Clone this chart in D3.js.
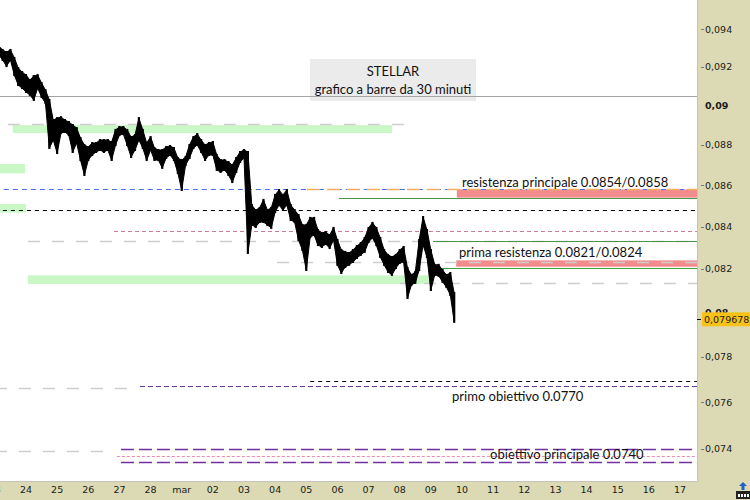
<!DOCTYPE html>
<html><head><meta charset="utf-8">
<script src="https://cdn.jsdelivr.net/npm/d3@7"></script>
<style>
body{margin:0;background:#fff}
svg{display:block}
.tick{font-family:"DejaVu Sans",sans-serif;font-size:9.5px;fill:#1a1a1a}
.ann{font-family:Lato,"Open Sans",sans-serif;font-size:13px;fill:#111}
</style>
</head><body>
<svg id="c" width="750" height="500"></svg>
<script>
// ---------------- DATA ----------------
const barStart = "2019-02-23 03:00";
const barStepHours = 3;
const highs = [
.09311,.09290,.09279,.09290,.09248,.09195,.09174,.09158,.09132,.09153,
.09158,.09116,.09080,.09029,.08926,.08936,.08941,.08926,.08916,.08901,
.08886,.08835,.08800,.08790,.08810,.08810,.08825,.08825,.08825,.08815,
.08876,.08891,.08891,.08876,.08840,.08850,.08936,.08876,.08810,.08840,
.08785,.08775,.08775,.08790,.08795,.08785,.08735,.08725,.08740,.08800,
.08840,.08855,.08825,.08800,.08810,.08815,.08750,.08725,.08725,.08715,
.08700,.08735,.08765,.08775,.08765,.08504,.08480,.08490,.08529,.08480,
.08490,.08553,.08577,.08553,.08577,.08504,.08480,.08456,.08408,.08408,
.08442,.08442,.08384,.08370,.08374,.08360,.08394,.08336,.08289,.08280,
.08275,.08289,.08308,.08322,.08346,.08394,.08418,.08394,.08346,.08289,
.08266,.08256,.08266,.08289,.08303,.08204,.08172,.08186,.08336,.08446,
.08384,.08289,.08219,.08219,.08195,.08172,.08181,.08088];
const lows = [
.09264,.09237,.09205,.09237,.09158,.09106,.09090,.09070,.09055,.09029,
.09090,.09044,.09013,.08785,.08825,.08760,.08861,.08866,.08850,.08765,
.08810,.08725,.08651,.08725,.08750,.08765,.08775,.08765,.08775,.08725,
.08800,.08850,.08855,.08800,.08740,.08775,.08825,.08785,.08725,.08775,
.08725,.08725,.08686,.08735,.08750,.08725,.08661,.08577,.08700,.08735,
.08785,.08800,.08765,.08725,.08750,.08750,.08676,.08666,.08676,.08651,
.08616,.08666,.08715,.08735,.08275,.08408,.08398,.08422,.08422,.08408,
.08394,.08470,.08504,.08480,.08504,.08432,.08422,.08336,.08289,.08195,
.08350,.08360,.08312,.08303,.08317,.08298,.08336,.08219,.08181,.08209,
.08219,.08233,.08251,.08266,.08280,.08327,.08346,.08312,.08256,.08219,
.08186,.08172,.08204,.08228,.08233,.08065,.08126,.08135,.08195,.08312,
.08256,.08102,.08172,.08168,.08140,.08116,.08079,.07956];
const lastPrice = 0.079678;

const yTicks = [0.074,0.076,0.078,0.08,0.082,0.084,0.086,0.088,0.09,0.092,0.094];
const yTicksBold = [0.08,0.09];
const dayLabels = ["23","24","25","26","27","28","mar","02","03","04","05","06","07","08","09","10","11","12","13","14","15","16","17"];
const firstLabelDay = "2019-02-23 00:00";

const zoneLow  = [0.0886, 0.08659, 0.08467, 0.0813, 0.0854, 0.0821];
const zoneHigh = [0.0890, 0.08705, 0.08509, 0.0817, 0.0858, 0.0824];
const zoneFrom = ["2019-02-23 13:45","2019-02-23 00:00","2019-02-23 00:00","2019-02-24 01:30","2019-03-09 20:00","2019-03-09 19:30"];
const zoneTo   = ["2019-03-07 18:05","2019-02-23 23:15","2019-02-24 00:00","2019-03-08 23:20","2019-03-19 00:00","2019-03-19 00:00"];
const zoneKind = ["support","support","support","support","resistance","resistance"];

const levelPrice = [0.0905,0.08905,0.0858,0.0858,0.0854,0.0848,0.0838,0.0833,0.0833,0.0823,0.08205,0.08133,0.07692,0.0767,0.0766,0.0740,0.0737,0.07347,0.07393];
const levelFrom = ["2019-02-23 00:00","2019-02-23 10:00","2019-02-23 00:00","2019-03-05 00:30","2019-03-06 01:10","2019-02-23 00:00","2019-02-26 19:50","2019-02-24 01:30","2019-03-09 01:40","2019-03-04 01:25","2019-03-09 01:40","2019-03-08 00:15","2019-03-05 03:00","2019-02-27 15:50","2019-02-23 00:00","2019-02-27 01:10","2019-02-26 22:00","2019-02-27 01:10","2019-02-23 00:00"];
const levelTo = ["2019-03-19 00:00","2019-03-08 03:20","2019-03-19 00:00","2019-03-19 00:00","2019-03-19 00:00","2019-03-19 00:00","2019-03-19 00:00","2019-03-19 00:00","2019-03-19 00:00","2019-03-19 00:00","2019-03-19 00:00","2019-03-19 00:00","2019-03-19 00:00","2019-03-19 00:00","2019-02-27 08:00","2019-03-19 00:00","2019-03-19 00:00","2019-03-19 00:00","2019-02-26 14:30"];
const levelKind = ["solidGray","grayLong","blueDash","orangeDash","greenSolid","blackDash","pinkDash","grayLong","greenSolid","grayLong","greenSolid2","grayLong","blackDash","purpleDash","grayLong","purpleLong","pinkSmall","purpleLong","grayLong"];

const noteText = ["resistenza principale 0.0854/0.0858","prima resistenza 0.0821/0.0824","primo obiettivo 0.0770","obiettivo principale 0.0740"];
const noteTime = ["2019-03-10 00:00","2019-03-09 21:45","2019-03-09 16:20","2019-03-10 21:40"];
const notePrice = [0.0858,0.0824,0.0767,0.0740];

const titleLines = ["STELLAR","grafico a barre da 30 minuti"];

// ---------------- STYLE / LAYOUT ----------------
const W = 750, H = 500, plotR = 697, plotB = 481;
const axisBg = "#dbdab4";
const zoneColor = {support:"#c9f7c6", resistance:"#f38d8d"};
const lineStyle = {
  solidGray:{c:"#a4a4a4",w:1.2,d:null},
  grayLong:{c:"#cdcdcd",w:1.5,d:"12,12"},
  blueDash:{c:"#4a72e4",w:1.2,d:"5,4"},
  orangeDash:{c:"#f5ad62",w:1.3,d:"13,7"},
  greenSolid:{c:"#4a944a",w:1,d:null},
  greenSolid2:{c:"#3aa03a",w:1.2,d:null},
  blackDash:{c:"#000",w:1,d:"4,4"},
  pinkDash:{c:"#d0779c",w:1.1,d:"4,3"},
  purpleDash:{c:"#5f3aa8",w:1,d:"5,3"},
  purpleLong:{c:"#7030a0",w:1.6,d:"13,5"},
  pinkSmall:{c:"#ef88bb",w:1,d:"3,2"}
};
const noteDy = [-2.5,-3,15,10];

// ---------------- SCALES ----------------
const parse = d3.timeParse("%Y-%m-%d %H:%M");
const x = d3.scaleTime()
  .domain([parse("2019-02-24 00:00"), parse("2019-03-17 00:00")])
  .range([26, 680]);
const y = d3.scaleLog().domain([0.074, 0.094]).range([449, 29.3]);

const loc = d3.formatLocale({decimal:",",thousands:".",grouping:[3],currency:["","€"]});
const fmtTick = loc.format(".3~f");
const fmtLast = loc.format(".6f");

const svg = d3.select("#c");
svg.append("rect").attr("width",W).attr("height",H).attr("fill","#fff");
svg.append("defs").append("clipPath").attr("id","plot")
  .append("rect").attr("x",0).attr("y",0).attr("width",plotR).attr("height",plotB);
const g = svg.append("g").attr("clip-path","url(#plot)");

// zones
const zones = zoneLow.map((lo,i)=>({lo,hi:zoneHigh[i],from:parse(zoneFrom[i]),to:parse(zoneTo[i]),kind:zoneKind[i]}));
g.selectAll("rect.zone").data(zones).join("rect").attr("class","zone")
  .attr("x",d=>x(d.from)).attr("width",d=>x(d.to)-x(d.from))
  .attr("y",d=>y(d.hi)).attr("height",d=>y(d.lo)-y(d.hi))
  .attr("fill",d=>zoneColor[d.kind]);

// levels
const levels = levelPrice.map((p,i)=>({p,from:parse(levelFrom[i]),to:parse(levelTo[i]),kind:levelKind[i]}));
g.selectAll("line.lvl").data(levels).join("line").attr("class","lvl")
  .attr("x1",d=>x(d.from)).attr("x2",d=>x(d.to))
  .attr("y1",d=>Math.round(y(d.p))+0.5).attr("y2",d=>Math.round(y(d.p))+0.5)
  .attr("stroke",d=>lineStyle[d.kind].c)
  .attr("stroke-width",d=>lineStyle[d.kind].w)
  .attr("stroke-dasharray",d=>lineStyle[d.kind].d);

// title box
const tb = svg.append("g");
tb.append("rect").attr("x",310).attr("y",59).attr("width",166).attr("height",42).attr("fill","#ebebeb");
tb.selectAll("text").data(titleLines).join("text").attr("class","ann")
  .attr("x",393).attr("y",(d,i)=>75.5+i*18).attr("text-anchor","middle").text(d=>d);
svg.append("line").attr("x1",0).attr("x2",plotR)
  .attr("y1",Math.round(y(levelPrice[0]))+0.5).attr("y2",Math.round(y(levelPrice[0]))+0.5)
  .attr("stroke",lineStyle.solidGray.c).attr("stroke-width",lineStyle.solidGray.w);

// price: high-low bars joined by a thin ribbon
const t0 = parse(barStart);
const bars = highs.map((h,i)=>({t:d3.timeHour.offset(t0,i*barStepHours),high:h,low:lows[i]}));
const area = d3.area().x(d=>x(d.t)).y0(d=>y(d.low)).y1(d=>y(d.high));
const pg = svg.append("g").attr("clip-path","url(#plot)");
pg.append("path").datum(bars).attr("d",area)
  .attr("fill","#000").attr("stroke","#000").attr("stroke-width",1).attr("stroke-linejoin","miter");
pg.selectAll("line.bar").data(bars).join("line").attr("class","bar")
  .attr("x1",d=>x(d.t)).attr("x2",d=>x(d.t))
  .attr("y1",d=>y(d.high)-1).attr("y2",d=>y(d.low)+1)
  .attr("stroke","#000").attr("stroke-width",2.2);

// notes
svg.selectAll("text.note").data(noteText).join("text").attr("class","ann note")
  .attr("x",(d,i)=>x(parse(noteTime[i]))).attr("y",(d,i)=>y(notePrice[i])+noteDy[i]).text(d=>d);

// axes background
svg.append("rect").attr("x",plotR).attr("y",0).attr("width",W-plotR).attr("height",H).attr("fill",axisBg);
svg.append("rect").attr("x",0).attr("y",plotB).attr("width",W).attr("height",H-plotB).attr("fill",axisBg);
svg.append("line").attr("x1",plotR+0.5).attr("x2",plotR+0.5).attr("y1",0).attr("y2",plotB).attr("stroke","#c4c4bc");
svg.append("line").attr("x1",0).attr("x2",plotR).attr("y1",plotB+0.5).attr("y2",plotB+0.5).attr("stroke","#c4c4bc");

// y axis
const ya = svg.append("g");
yTicks.forEach(v=>{
  const bold = yTicksBold.includes(v);
  const yy = y(v);
  if(!bold) ya.append("line").attr("x1",701).attr("x2",704).attr("y1",Math.round(yy)+0.5).attr("y2",Math.round(yy)+0.5).attr("stroke","#777");
  ya.append("text").attr("class","tick").attr("x",705).attr("y",yy).attr("dy","0.35em")
    .attr("font-weight",bold?"bold":"normal").text(fmtTick(v));
});
// last price label
const ly = y(lastPrice);
svg.append("line").attr("x1",697).attr("x2",701).attr("y1",Math.round(ly)+0.5).attr("y2",Math.round(ly)+0.5).attr("stroke","#000");
svg.append("rect").attr("x",702).attr("y",ly-7).attr("width",48).attr("height",14).attr("fill","#f8c21a");
svg.append("text").attr("class","tick").attr("x",704).attr("y",ly).attr("dy","0.35em").text(fmtLast(lastPrice));

// x axis
const d0 = parse(firstLabelDay);
svg.selectAll("text.xl").data(dayLabels).join("text").attr("class","tick xl")
  .attr("x",(d,i)=>x(d3.timeDay.offset(d0,i))).attr("y",490).attr("dy","0.35em")
  .attr("text-anchor","middle").text(d=>d);

// corner icon
const ic = svg.append("g");
ic.append("rect").attr("x",736.5).attr("y",491.5).attr("width",13).attr("height",7).attr("fill","#222").attr("stroke","#222");
for(let k=0;k<4;k++) ic.append("rect").attr("x",738+k*3).attr("y",494).attr("width",2).attr("height",3).attr("fill","#fff");
ic.append("path").attr("d","M743,482 L739,486 L741.5,486 L741.5,490 L744.5,490 L744.5,486 L747,486 Z").attr("fill","#1f5fc8");
</script>
</body></html>
